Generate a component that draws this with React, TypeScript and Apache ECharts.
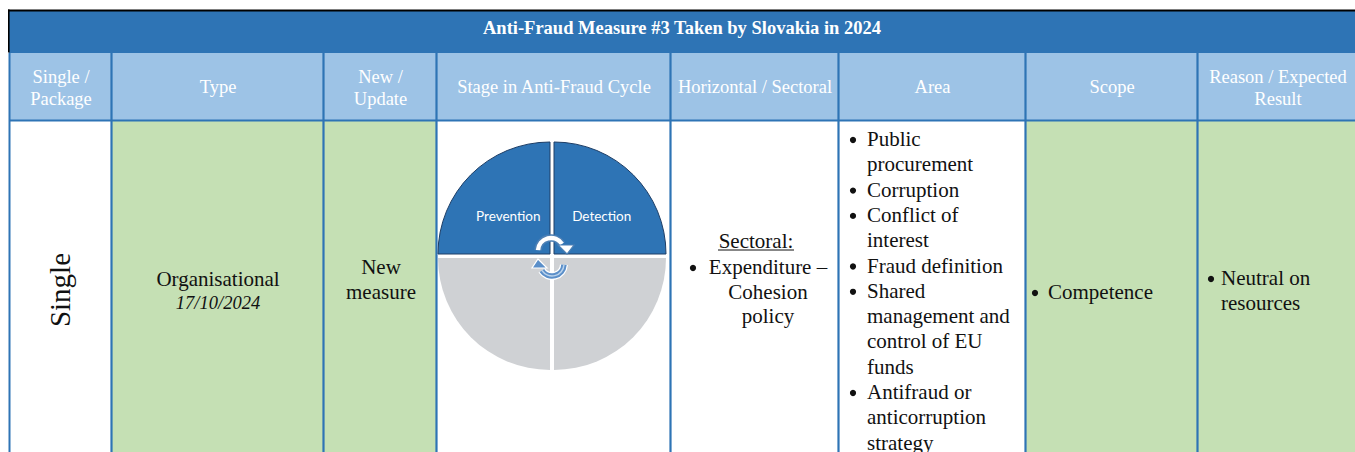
import React, { useEffect, useRef } from "react";
import * as echarts from "echarts";

// ---------- content ----------
const title = "Anti-Fraud Measure #3 Taken by Slovakia in 2024";
const headerLabels: string[][] = [
  ["Single /", "Package"],
  ["Type"],
  ["New /", "Update"],
  ["Stage in Anti-Fraud Cycle"],
  ["Horizontal / Sectoral"],
  ["Area"],
  ["Scope"],
  ["Reason / Expected", "Result"],
];
const singlePackage = "Single";
const measureType = "Organisational";
const measureDate = "17/10/2024";
const newUpdate = ["New", "measure"];
const cycleStages = ["Detection", "Investigation", "Recovery", "Prevention"];
const stageValues = [1, 1, 1, 1];
const activeStages = ["Prevention", "Detection"];
const sectoralHeading = "Sectoral:";
const sectoralLines = ["Expenditure –", "Cohesion", "policy"];
const areaItems: string[][] = [
  ["Public", "procurement"],
  ["Corruption"],
  ["Conflict of", "interest"],
  ["Fraud definition"],
  ["Shared", "management and", "control of EU", "funds"],
  ["Antifraud or", "anticorruption", "strategy"],
];
const scopeItems: string[][] = [["Competence"]];
const reasonItems: string[][] = [["Neutral on", "resources"]];
const columnShading = ["white", "green", "green", "white", "white", "white", "green", "green"];

// ---------- layout / style ----------
const COL_X = [9, 111, 323, 436, 670, 838, 1025, 1197, 1357];
const TITLE_TOP = 11;
const HEADER_TOP = 53;
const BODY_TOP = 121;
const BOTTOM = 452;
const DARK_BLUE = "#2E74B5";
const LIGHT_BLUE = "#9DC3E6";
const GREEN = "#C5E0B4";
const GRAY = "#CFD1D4";
const SERIF = '"Liberation Serif", "Times New Roman", serif';
const SANS = 'Lato, "Open Sans", sans-serif';
const PIE_CX = 552;
const PIE_CY = 256;
const PIE_R = 112;

function txt(text: string, x: number, y: number, opts: any = {}) {
  const align = opts.align || "center";
  return {
    type: "text",
    x,
    y,
    rotation: opts.rotation || 0,
    z: opts.z || 5,
    silent: true,
    style: {
      text,
      fill: opts.fill || "#111",
      fontSize: opts.size || 21,
      fontFamily: opts.family || SERIF,
      fontWeight: opts.weight || "normal",
      fontStyle: opts.italic ? "italic" : "normal",
      textAlign: align,
      align,
      textVerticalAlign: "middle",
      verticalAlign: "middle",
    },
  };
}

function bullet(x: number, y: number) {
  return { type: "circle", z: 5, silent: true, shape: { cx: x, cy: y, r: 3.1 }, style: { fill: "#111" } };
}

function bulletList(items: string[][], bx: number, tx: number, y0: number, lh: number) {
  const els: any[] = [];
  let y = y0;
  items.forEach((lines) => {
    els.push(bullet(bx, y + 1));
    lines.forEach((l) => {
      els.push(txt(l, tx, y, { align: "left" }));
      y += lh;
    });
  });
  return els;
}

function buildGraphic() {
  const els: any[] = [];
  const W = 1355;
  // title band
  els.push({ type: "rect", z: 0, silent: true, shape: { x: 9, y: TITLE_TOP, width: W - 9, height: HEADER_TOP - TITLE_TOP }, style: { fill: DARK_BLUE } });
  // header band
  els.push({ type: "rect", z: 0, silent: true, shape: { x: 9, y: HEADER_TOP, width: W - 9, height: BODY_TOP - HEADER_TOP }, style: { fill: LIGHT_BLUE } });
  // body cells
  columnShading.forEach((s, i) => {
    els.push({
      type: "rect", z: 0, silent: true,
      shape: { x: COL_X[i], y: BODY_TOP, width: COL_X[i + 1] - COL_X[i], height: BOTTOM - BODY_TOP },
      style: { fill: s === "green" ? GREEN : "#FFFFFF" },
    });
  });
  // grid lines
  COL_X.slice(0, -1).forEach((x, i) => {
    els.push({ type: "line", z: 1, silent: true, shape: { x1: x + 0.5, y1: HEADER_TOP, x2: x + 0.5, y2: BOTTOM }, style: { stroke: DARK_BLUE, lineWidth: i === 0 ? 2 : 2.2 } });
  });
  els.push({ type: "line", z: 1, silent: true, shape: { x1: 9, y1: BODY_TOP - 0.5, x2: W, y2: BODY_TOP - 0.5 }, style: { stroke: DARK_BLUE, lineWidth: 2.2 } });
  // black outer top/left border of title
  els.push({ type: "rect", z: 2, silent: true, shape: { x: 8, y: 9.5, width: W - 8, height: 2 }, style: { fill: "#000" } });
  els.push({ type: "rect", z: 2, silent: true, shape: { x: 8, y: 9.5, width: 1.6, height: HEADER_TOP - 10 }, style: { fill: "#000" } });

  // title
  els.push(txt(title, 682, 28, { fill: "#FFFFFF", size: 18.5, weight: "bold" }));
  // headers
  headerLabels.forEach((lines, i) => {
    const cx = (COL_X[i] + COL_X[i + 1]) / 2 + 1;
    if (lines.length === 1) els.push(txt(lines[0], cx, 87, { fill: "#FFFFFF", size: 18.5 }));
    else lines.forEach((l, k) => els.push(txt(l, cx, 77 + k * 21.5, { fill: "#FFFFFF", size: 18.5 })));
  });

  // body col 1
  els.push(txt(singlePackage, 60, 290, { size: 29, rotation: Math.PI / 2 }));
  // col 2
  els.push(txt(measureType, 218, 279));
  els.push(txt(measureDate, 218, 303, { size: 18.5, italic: true }));
  // col 3
  newUpdate.forEach((l, k) => els.push(txt(l, 381, 267 + k * 24.5)));
  // col 5
  els.push(txt(sectoralHeading, 756, 241));
  els.push({ type: "line", z: 5, silent: true, shape: { x1: 718, y1: 250, x2: 794, y2: 250 }, style: { stroke: "#111", lineWidth: 1 } });
  els.push(bullet(693, 268));
  sectoralLines.forEach((l, k) => els.push(txt(l, 768, 267 + k * 24.5)));
  // col 6
  els.push(...bulletList(areaItems, 853, 867, 139, 25.3));
  // col 7
  els.push(...bulletList(scopeItems, 1035, 1048, 292, 25));
  // col 8
  els.push(...bulletList(reasonItems, 1211, 1221, 278, 25));

  // cycle arrows (decoration in the middle of the wheel)
  const topArc = { cx: PIE_CX - 1, cy: 251, r: 13, startAngle: Math.PI * 1.02, endAngle: Math.PI * 1.82, clockwise: true };
  els.push({ type: "arc", z: 100, silent: true, shape: topArc, style: { stroke: "#4C7FB4", lineWidth: 7.5, fill: null } });
  els.push({ type: "arc", z: 101, silent: true, shape: topArc, style: { stroke: "#FFFFFF", lineWidth: 4.5, fill: null } });
  els.push({ type: "polygon", z: 102, silent: true, shape: { points: [[558, 245], [574, 245], [567, 254]] }, style: { fill: "#FFFFFF", stroke: "#4C7FB4", lineWidth: 1.2 } });

  const botArc = { cx: PIE_CX, cy: 264, r: 12, startAngle: Math.PI * 0.02, endAngle: Math.PI * 0.82, clockwise: true };
  els.push({ type: "arc", z: 100, silent: true, shape: botArc, style: { stroke: "#FFFFFF", lineWidth: 8, fill: null } });
  els.push({ type: "arc", z: 101, silent: true, shape: botArc, style: { stroke: "#5B8FC9", lineWidth: 5.5, fill: null } });
  els.push({ type: "arc", z: 102, silent: true, shape: botArc, style: { stroke: "#BBD3EC", lineWidth: 1.5, fill: null } });
  els.push({ type: "polygon", z: 103, silent: true, shape: { points: [[532, 268], [547, 268], [538, 259]] }, style: { fill: "#5B8FC9", stroke: "#FFFFFF", lineWidth: 1.2 } });

  return els;
}

function buildSeries() {
  const offsets = [[2, -2], [2, 2], [-2, 2], [-2, -2]];
  // fine horizontal shift of the inside labels
  const labelPads: Record<string, number[]> = { Detection: [0, 0, 0, 12], Prevention: [0, 0, 0, 0] };
  return cycleStages.map((stage, i) => {
    const active = activeStages.includes(stage);
    return {
      type: "pie",
      silent: true,
      z: 10,
      center: [PIE_CX + offsets[i][0], PIE_CY + offsets[i][1]],
      radius: [0, PIE_R],
      startAngle: 90,
      clockwise: true,
      avoidLabelOverlap: false,
      labelLine: { show: false },
      data: cycleStages.map((s, j) => ({
        name: s,
        value: stageValues[j],
        itemStyle:
          j === i
            ? { color: active ? DARK_BLUE : GRAY, borderColor: active ? "#1E3E66" : GRAY, borderWidth: active ? 1 : 0 }
            : { color: "rgba(0,0,0,0)", borderWidth: 0 },
        label:
          j === i && active
            ? {
                show: true,
                position: "inside",
                formatter: (p: any) => `{g| }\n{n|${p.name}}`,
                padding: labelPads[s] || 0,
                rich: {
                  g: { fontSize: 2, lineHeight: 8, height: 8 },
                  n: { color: "#FFFFFF", fontSize: 13.5, fontFamily: SANS, lineHeight: 16 },
                },
              }
            : { show: false },
      })),
    };
  });
}

export default function App() {
  const ref = useRef<HTMLDivElement>(null);
  useEffect(() => {
    if (!ref.current) return;
    const chart = echarts.init(ref.current, undefined, { renderer: "svg" });
    chart.setOption({
      animation: false,
      backgroundColor: "#FFFFFF",
      series: buildSeries(),
      graphic: { elements: buildGraphic() },
    });
    return () => chart.dispose();
  }, []);
  return (
    <div
      ref={ref}
      style={{ position: "fixed", left: 0, top: 0, width: 1355, height: 452 }}
    />
  );
}
